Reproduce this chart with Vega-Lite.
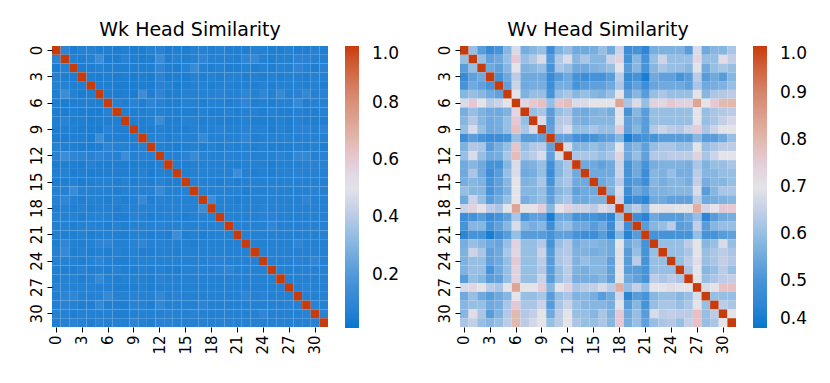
{
"$schema": "https://vega.github.io/schema/vega-lite/v6.json",
"padding": {"left": 29, "top": 21, "right": 5, "bottom": 5},
"background": "white",
"config": {"font": "DejaVu Sans", "view": {"stroke": null},
 "axis": {"domain": false, "grid": false, "tickColor": "#000", "tickSize": 5, "tickWidth": 1, "labelFontSize": 15, "labelColor": "#000", "labelPadding": 3, "title": null},
 "title": {"fontSize": 19, "fontWeight": "normal", "color": "#000", "offset": 5},
 "legend": {"labelFontSize": 17, "labelColor": "#000", "gradientLength": 282, "gradientThickness": 14, "offset": 17, "labelOffset": 13, "gradientStrokeWidth": 0}
},
"resolve": {"scale": {"color": "independent"}},
"spacing": 37,
"datasets": {
"k": [
{"i":0,"j":0,"z":1},{"i":0,"j":1,"z":0.09},{"i":0,"j":2,"z":0.05},{"i":0,"j":3,"z":0.07},{"i":0,"j":4,"z":0.07},{"i":0,"j":5,"z":0.06},{"i":0,"j":6,"z":0.06},{"i":0,"j":7,"z":0.05},{"i":0,"j":8,"z":0.06},{"i":0,"j":9,"z":0.05},{"i":0,"j":10,"z":0.05},{"i":0,"j":11,"z":0.07},{"i":0,"j":12,"z":0.08},{"i":0,"j":13,"z":0.05},{"i":0,"j":14,"z":0.06},{"i":0,"j":15,"z":0.05},{"i":0,"j":16,"z":0.07},{"i":0,"j":17,"z":0.07},{"i":0,"j":18,"z":0.06},{"i":0,"j":19,"z":0.07},{"i":0,"j":20,"z":0.06},{"i":0,"j":21,"z":0.06},{"i":0,"j":22,"z":0.06},{"i":0,"j":23,"z":0.07},{"i":0,"j":24,"z":0.07},{"i":0,"j":25,"z":0.06},{"i":0,"j":26,"z":0.06},{"i":0,"j":27,"z":0.07},{"i":0,"j":28,"z":0.06},{"i":0,"j":29,"z":0.06},{"i":0,"j":30,"z":0.07},{"i":0,"j":31,"z":0.06},
{"i":1,"j":0,"z":0.09},{"i":1,"j":1,"z":1},{"i":1,"j":2,"z":0.07},{"i":1,"j":3,"z":0.06},{"i":1,"j":4,"z":0.07},{"i":1,"j":5,"z":0.14},{"i":1,"j":6,"z":0.05},{"i":1,"j":7,"z":0.05},{"i":1,"j":8,"z":0.08},{"i":1,"j":9,"z":0.06},{"i":1,"j":10,"z":0.05},{"i":1,"j":11,"z":0.06},{"i":1,"j":12,"z":0.14},{"i":1,"j":13,"z":0.06},{"i":1,"j":14,"z":0.07},{"i":1,"j":15,"z":0.06},{"i":1,"j":16,"z":0.07},{"i":1,"j":17,"z":0.10},{"i":1,"j":18,"z":0.07},{"i":1,"j":19,"z":0.07},{"i":1,"j":20,"z":0.07},{"i":1,"j":21,"z":0.06},{"i":1,"j":22,"z":0.10},{"i":1,"j":23,"z":0.12},{"i":1,"j":24,"z":0.07},{"i":1,"j":25,"z":0.06},{"i":1,"j":26,"z":0.07},{"i":1,"j":27,"z":0.07},{"i":1,"j":28,"z":0.09},{"i":1,"j":29,"z":0.08},{"i":1,"j":30,"z":0.07},{"i":1,"j":31,"z":0.07},
{"i":2,"j":0,"z":0.05},{"i":2,"j":1,"z":0.07},{"i":2,"j":2,"z":1},{"i":2,"j":3,"z":0.05},{"i":2,"j":4,"z":0.06},{"i":2,"j":5,"z":0.07},{"i":2,"j":6,"z":0.06},{"i":2,"j":7,"z":0.06},{"i":2,"j":8,"z":0.06},{"i":2,"j":9,"z":0.06},{"i":2,"j":10,"z":0.06},{"i":2,"j":11,"z":0.06},{"i":2,"j":12,"z":0.10},{"i":2,"j":13,"z":0.06},{"i":2,"j":14,"z":0.05},{"i":2,"j":15,"z":0.07},{"i":2,"j":16,"z":0.13},{"i":2,"j":17,"z":0.07},{"i":2,"j":18,"z":0.06},{"i":2,"j":19,"z":0.07},{"i":2,"j":20,"z":0.06},{"i":2,"j":21,"z":0.06},{"i":2,"j":22,"z":0.07},{"i":2,"j":23,"z":0.06},{"i":2,"j":24,"z":0.07},{"i":2,"j":25,"z":0.06},{"i":2,"j":26,"z":0.07},{"i":2,"j":27,"z":0.07},{"i":2,"j":28,"z":0.10},{"i":2,"j":29,"z":0.07},{"i":2,"j":30,"z":0.06},{"i":2,"j":31,"z":0.08},
{"i":3,"j":0,"z":0.07},{"i":3,"j":1,"z":0.06},{"i":3,"j":2,"z":0.05},{"i":3,"j":3,"z":1},{"i":3,"j":4,"z":0.06},{"i":3,"j":5,"z":0.05},{"i":3,"j":6,"z":0.06},{"i":3,"j":7,"z":0.05},{"i":3,"j":8,"z":0.06},{"i":3,"j":9,"z":0.05},{"i":3,"j":10,"z":0.06},{"i":3,"j":11,"z":0.05},{"i":3,"j":12,"z":0.09},{"i":3,"j":13,"z":0.05},{"i":3,"j":14,"z":0.06},{"i":3,"j":15,"z":0.05},{"i":3,"j":16,"z":0.07},{"i":3,"j":17,"z":0.06},{"i":3,"j":18,"z":0.07},{"i":3,"j":19,"z":0.06},{"i":3,"j":20,"z":0.07},{"i":3,"j":21,"z":0.07},{"i":3,"j":22,"z":0.06},{"i":3,"j":23,"z":0.07},{"i":3,"j":24,"z":0.06},{"i":3,"j":25,"z":0.07},{"i":3,"j":26,"z":0.06},{"i":3,"j":27,"z":0.07},{"i":3,"j":28,"z":0.07},{"i":3,"j":29,"z":0.06},{"i":3,"j":30,"z":0.07},{"i":3,"j":31,"z":0.07},
{"i":4,"j":0,"z":0.07},{"i":4,"j":1,"z":0.07},{"i":4,"j":2,"z":0.06},{"i":4,"j":3,"z":0.06},{"i":4,"j":4,"z":1},{"i":4,"j":5,"z":0.06},{"i":4,"j":6,"z":0.06},{"i":4,"j":7,"z":0.05},{"i":4,"j":8,"z":0.05},{"i":4,"j":9,"z":0.05},{"i":4,"j":10,"z":0.05},{"i":4,"j":11,"z":0.05},{"i":4,"j":12,"z":0.08},{"i":4,"j":13,"z":0.07},{"i":4,"j":14,"z":0.05},{"i":4,"j":15,"z":0.06},{"i":4,"j":16,"z":0.07},{"i":4,"j":17,"z":0.07},{"i":4,"j":18,"z":0.06},{"i":4,"j":19,"z":0.07},{"i":4,"j":20,"z":0.07},{"i":4,"j":21,"z":0.06},{"i":4,"j":22,"z":0.07},{"i":4,"j":23,"z":0.06},{"i":4,"j":24,"z":0.07},{"i":4,"j":25,"z":0.06},{"i":4,"j":26,"z":0.07},{"i":4,"j":27,"z":0.07},{"i":4,"j":28,"z":0.07},{"i":4,"j":29,"z":0.06},{"i":4,"j":30,"z":0.07},{"i":4,"j":31,"z":0.06},
{"i":5,"j":0,"z":0.06},{"i":5,"j":1,"z":0.14},{"i":5,"j":2,"z":0.07},{"i":5,"j":3,"z":0.05},{"i":5,"j":4,"z":0.06},{"i":5,"j":5,"z":1},{"i":5,"j":6,"z":0.06},{"i":5,"j":7,"z":0.05},{"i":5,"j":8,"z":0.06},{"i":5,"j":9,"z":0.05},{"i":5,"j":10,"z":0.14},{"i":5,"j":11,"z":0.06},{"i":5,"j":12,"z":0.10},{"i":5,"j":13,"z":0.06},{"i":5,"j":14,"z":0.06},{"i":5,"j":15,"z":0.07},{"i":5,"j":16,"z":0.07},{"i":5,"j":17,"z":0.07},{"i":5,"j":18,"z":0.07},{"i":5,"j":19,"z":0.08},{"i":5,"j":20,"z":0.07},{"i":5,"j":21,"z":0.07},{"i":5,"j":22,"z":0.10},{"i":5,"j":23,"z":0.07},{"i":5,"j":24,"z":0.10},{"i":5,"j":25,"z":0.07},{"i":5,"j":26,"z":0.12},{"i":5,"j":27,"z":0.07},{"i":5,"j":28,"z":0.08},{"i":5,"j":29,"z":0.11},{"i":5,"j":30,"z":0.07},{"i":5,"j":31,"z":0.08},
{"i":6,"j":0,"z":0.06},{"i":6,"j":1,"z":0.05},{"i":6,"j":2,"z":0.06},{"i":6,"j":3,"z":0.06},{"i":6,"j":4,"z":0.06},{"i":6,"j":5,"z":0.06},{"i":6,"j":6,"z":1},{"i":6,"j":7,"z":0.07},{"i":6,"j":8,"z":0.06},{"i":6,"j":9,"z":0.08},{"i":6,"j":10,"z":0.06},{"i":6,"j":11,"z":0.09},{"i":6,"j":12,"z":0.08},{"i":6,"j":13,"z":0.06},{"i":6,"j":14,"z":0.06},{"i":6,"j":15,"z":0.07},{"i":6,"j":16,"z":0.07},{"i":6,"j":17,"z":0.06},{"i":6,"j":18,"z":0.07},{"i":6,"j":19,"z":0.07},{"i":6,"j":20,"z":0.06},{"i":6,"j":21,"z":0.07},{"i":6,"j":22,"z":0.10},{"i":6,"j":23,"z":0.06},{"i":6,"j":24,"z":0.07},{"i":6,"j":25,"z":0.06},{"i":6,"j":26,"z":0.07},{"i":6,"j":27,"z":0.07},{"i":6,"j":28,"z":0.12},{"i":6,"j":29,"z":0.06},{"i":6,"j":30,"z":0.07},{"i":6,"j":31,"z":0.07},
{"i":7,"j":0,"z":0.05},{"i":7,"j":1,"z":0.05},{"i":7,"j":2,"z":0.06},{"i":7,"j":3,"z":0.05},{"i":7,"j":4,"z":0.05},{"i":7,"j":5,"z":0.05},{"i":7,"j":6,"z":0.07},{"i":7,"j":7,"z":1},{"i":7,"j":8,"z":0.06},{"i":7,"j":9,"z":0.06},{"i":7,"j":10,"z":0.06},{"i":7,"j":11,"z":0.07},{"i":7,"j":12,"z":0.07},{"i":7,"j":13,"z":0.06},{"i":7,"j":14,"z":0.06},{"i":7,"j":15,"z":0.06},{"i":7,"j":16,"z":0.06},{"i":7,"j":17,"z":0.07},{"i":7,"j":18,"z":0.06},{"i":7,"j":19,"z":0.06},{"i":7,"j":20,"z":0.07},{"i":7,"j":21,"z":0.06},{"i":7,"j":22,"z":0.07},{"i":7,"j":23,"z":0.07},{"i":7,"j":24,"z":0.06},{"i":7,"j":25,"z":0.07},{"i":7,"j":26,"z":0.06},{"i":7,"j":27,"z":0.06},{"i":7,"j":28,"z":0.07},{"i":7,"j":29,"z":0.06},{"i":7,"j":30,"z":0.06},{"i":7,"j":31,"z":0.07},
{"i":8,"j":0,"z":0.06},{"i":8,"j":1,"z":0.08},{"i":8,"j":2,"z":0.06},{"i":8,"j":3,"z":0.06},{"i":8,"j":4,"z":0.05},{"i":8,"j":5,"z":0.06},{"i":8,"j":6,"z":0.06},{"i":8,"j":7,"z":0.06},{"i":8,"j":8,"z":1},{"i":8,"j":9,"z":0.06},{"i":8,"j":10,"z":0.06},{"i":8,"j":11,"z":0.07},{"i":8,"j":12,"z":0.14},{"i":8,"j":13,"z":0.06},{"i":8,"j":14,"z":0.06},{"i":8,"j":15,"z":0.07},{"i":8,"j":16,"z":0.07},{"i":8,"j":17,"z":0.06},{"i":8,"j":18,"z":0.07},{"i":8,"j":19,"z":0.06},{"i":8,"j":20,"z":0.06},{"i":8,"j":21,"z":0.06},{"i":8,"j":22,"z":0.07},{"i":8,"j":23,"z":0.06},{"i":8,"j":24,"z":0.06},{"i":8,"j":25,"z":0.06},{"i":8,"j":26,"z":0.07},{"i":8,"j":27,"z":0.06},{"i":8,"j":28,"z":0.07},{"i":8,"j":29,"z":0.06},{"i":8,"j":30,"z":0.06},{"i":8,"j":31,"z":0.06},
{"i":9,"j":0,"z":0.05},{"i":9,"j":1,"z":0.06},{"i":9,"j":2,"z":0.06},{"i":9,"j":3,"z":0.05},{"i":9,"j":4,"z":0.05},{"i":9,"j":5,"z":0.05},{"i":9,"j":6,"z":0.08},{"i":9,"j":7,"z":0.06},{"i":9,"j":8,"z":0.06},{"i":9,"j":9,"z":1},{"i":9,"j":10,"z":0.06},{"i":9,"j":11,"z":0.06},{"i":9,"j":12,"z":0.07},{"i":9,"j":13,"z":0.06},{"i":9,"j":14,"z":0.06},{"i":9,"j":15,"z":0.06},{"i":9,"j":16,"z":0.07},{"i":9,"j":17,"z":0.07},{"i":9,"j":18,"z":0.07},{"i":9,"j":19,"z":0.08},{"i":9,"j":20,"z":0.07},{"i":9,"j":21,"z":0.07},{"i":9,"j":22,"z":0.08},{"i":9,"j":23,"z":0.07},{"i":9,"j":24,"z":0.07},{"i":9,"j":25,"z":0.06},{"i":9,"j":26,"z":0.07},{"i":9,"j":27,"z":0.06},{"i":9,"j":28,"z":0.08},{"i":9,"j":29,"z":0.08},{"i":9,"j":30,"z":0.07},{"i":9,"j":31,"z":0.09},
{"i":10,"j":0,"z":0.05},{"i":10,"j":1,"z":0.05},{"i":10,"j":2,"z":0.06},{"i":10,"j":3,"z":0.06},{"i":10,"j":4,"z":0.05},{"i":10,"j":5,"z":0.14},{"i":10,"j":6,"z":0.06},{"i":10,"j":7,"z":0.06},{"i":10,"j":8,"z":0.06},{"i":10,"j":9,"z":0.06},{"i":10,"j":10,"z":1},{"i":10,"j":11,"z":0.07},{"i":10,"j":12,"z":0.08},{"i":10,"j":13,"z":0.06},{"i":10,"j":14,"z":0.07},{"i":10,"j":15,"z":0.07},{"i":10,"j":16,"z":0.07},{"i":10,"j":17,"z":0.12},{"i":10,"j":18,"z":0.07},{"i":10,"j":19,"z":0.07},{"i":10,"j":20,"z":0.07},{"i":10,"j":21,"z":0.07},{"i":10,"j":22,"z":0.10},{"i":10,"j":23,"z":0.06},{"i":10,"j":24,"z":0.07},{"i":10,"j":25,"z":0.07},{"i":10,"j":26,"z":0.07},{"i":10,"j":27,"z":0.07},{"i":10,"j":28,"z":0.07},{"i":10,"j":29,"z":0.07},{"i":10,"j":30,"z":0.07},{"i":10,"j":31,"z":0.07},
{"i":11,"j":0,"z":0.07},{"i":11,"j":1,"z":0.06},{"i":11,"j":2,"z":0.06},{"i":11,"j":3,"z":0.05},{"i":11,"j":4,"z":0.05},{"i":11,"j":5,"z":0.06},{"i":11,"j":6,"z":0.09},{"i":11,"j":7,"z":0.07},{"i":11,"j":8,"z":0.07},{"i":11,"j":9,"z":0.06},{"i":11,"j":10,"z":0.07},{"i":11,"j":11,"z":1},{"i":11,"j":12,"z":0.07},{"i":11,"j":13,"z":0.06},{"i":11,"j":14,"z":0.05},{"i":11,"j":15,"z":0.06},{"i":11,"j":16,"z":0.07},{"i":11,"j":17,"z":0.06},{"i":11,"j":18,"z":0.07},{"i":11,"j":19,"z":0.06},{"i":11,"j":20,"z":0.07},{"i":11,"j":21,"z":0.06},{"i":11,"j":22,"z":0.07},{"i":11,"j":23,"z":0.06},{"i":11,"j":24,"z":0.07},{"i":11,"j":25,"z":0.06},{"i":11,"j":26,"z":0.06},{"i":11,"j":27,"z":0.06},{"i":11,"j":28,"z":0.07},{"i":11,"j":29,"z":0.06},{"i":11,"j":30,"z":0.07},{"i":11,"j":31,"z":0.06},
{"i":12,"j":0,"z":0.08},{"i":12,"j":1,"z":0.14},{"i":12,"j":2,"z":0.10},{"i":12,"j":3,"z":0.09},{"i":12,"j":4,"z":0.08},{"i":12,"j":5,"z":0.10},{"i":12,"j":6,"z":0.08},{"i":12,"j":7,"z":0.07},{"i":12,"j":8,"z":0.14},{"i":12,"j":9,"z":0.07},{"i":12,"j":10,"z":0.08},{"i":12,"j":11,"z":0.07},{"i":12,"j":12,"z":1},{"i":12,"j":13,"z":0.07},{"i":12,"j":14,"z":0.07},{"i":12,"j":15,"z":0.08},{"i":12,"j":16,"z":0.13},{"i":12,"j":17,"z":0.08},{"i":12,"j":18,"z":0.07},{"i":12,"j":19,"z":0.07},{"i":12,"j":20,"z":0.08},{"i":12,"j":21,"z":0.07},{"i":12,"j":22,"z":0.08},{"i":12,"j":23,"z":0.07},{"i":12,"j":24,"z":0.07},{"i":12,"j":25,"z":0.07},{"i":12,"j":26,"z":0.08},{"i":12,"j":27,"z":0.07},{"i":12,"j":28,"z":0.11},{"i":12,"j":29,"z":0.11},{"i":12,"j":30,"z":0.07},{"i":12,"j":31,"z":0.08},
{"i":13,"j":0,"z":0.05},{"i":13,"j":1,"z":0.06},{"i":13,"j":2,"z":0.06},{"i":13,"j":3,"z":0.05},{"i":13,"j":4,"z":0.07},{"i":13,"j":5,"z":0.06},{"i":13,"j":6,"z":0.06},{"i":13,"j":7,"z":0.06},{"i":13,"j":8,"z":0.06},{"i":13,"j":9,"z":0.06},{"i":13,"j":10,"z":0.06},{"i":13,"j":11,"z":0.06},{"i":13,"j":12,"z":0.07},{"i":13,"j":13,"z":1},{"i":13,"j":14,"z":0.06},{"i":13,"j":15,"z":0.06},{"i":13,"j":16,"z":0.07},{"i":13,"j":17,"z":0.07},{"i":13,"j":18,"z":0.07},{"i":13,"j":19,"z":0.07},{"i":13,"j":20,"z":0.07},{"i":13,"j":21,"z":0.06},{"i":13,"j":22,"z":0.07},{"i":13,"j":23,"z":0.07},{"i":13,"j":24,"z":0.07},{"i":13,"j":25,"z":0.06},{"i":13,"j":26,"z":0.07},{"i":13,"j":27,"z":0.07},{"i":13,"j":28,"z":0.07},{"i":13,"j":29,"z":0.07},{"i":13,"j":30,"z":0.08},{"i":13,"j":31,"z":0.08},
{"i":14,"j":0,"z":0.06},{"i":14,"j":1,"z":0.07},{"i":14,"j":2,"z":0.05},{"i":14,"j":3,"z":0.06},{"i":14,"j":4,"z":0.05},{"i":14,"j":5,"z":0.06},{"i":14,"j":6,"z":0.06},{"i":14,"j":7,"z":0.06},{"i":14,"j":8,"z":0.06},{"i":14,"j":9,"z":0.06},{"i":14,"j":10,"z":0.07},{"i":14,"j":11,"z":0.05},{"i":14,"j":12,"z":0.07},{"i":14,"j":13,"z":0.06},{"i":14,"j":14,"z":1},{"i":14,"j":15,"z":0.06},{"i":14,"j":16,"z":0.07},{"i":14,"j":17,"z":0.07},{"i":14,"j":18,"z":0.07},{"i":14,"j":19,"z":0.07},{"i":14,"j":20,"z":0.07},{"i":14,"j":21,"z":0.14},{"i":14,"j":22,"z":0.07},{"i":14,"j":23,"z":0.06},{"i":14,"j":24,"z":0.07},{"i":14,"j":25,"z":0.06},{"i":14,"j":26,"z":0.07},{"i":14,"j":27,"z":0.07},{"i":14,"j":28,"z":0.08},{"i":14,"j":29,"z":0.07},{"i":14,"j":30,"z":0.07},{"i":14,"j":31,"z":0.07},
{"i":15,"j":0,"z":0.05},{"i":15,"j":1,"z":0.06},{"i":15,"j":2,"z":0.07},{"i":15,"j":3,"z":0.05},{"i":15,"j":4,"z":0.06},{"i":15,"j":5,"z":0.07},{"i":15,"j":6,"z":0.07},{"i":15,"j":7,"z":0.06},{"i":15,"j":8,"z":0.07},{"i":15,"j":9,"z":0.06},{"i":15,"j":10,"z":0.07},{"i":15,"j":11,"z":0.06},{"i":15,"j":12,"z":0.08},{"i":15,"j":13,"z":0.06},{"i":15,"j":14,"z":0.06},{"i":15,"j":15,"z":1},{"i":15,"j":16,"z":0.07},{"i":15,"j":17,"z":0.07},{"i":15,"j":18,"z":0.07},{"i":15,"j":19,"z":0.06},{"i":15,"j":20,"z":0.07},{"i":15,"j":21,"z":0.06},{"i":15,"j":22,"z":0.07},{"i":15,"j":23,"z":0.07},{"i":15,"j":24,"z":0.07},{"i":15,"j":25,"z":0.07},{"i":15,"j":26,"z":0.07},{"i":15,"j":27,"z":0.07},{"i":15,"j":28,"z":0.07},{"i":15,"j":29,"z":0.07},{"i":15,"j":30,"z":0.07},{"i":15,"j":31,"z":0.07},
{"i":16,"j":0,"z":0.07},{"i":16,"j":1,"z":0.07},{"i":16,"j":2,"z":0.13},{"i":16,"j":3,"z":0.07},{"i":16,"j":4,"z":0.07},{"i":16,"j":5,"z":0.07},{"i":16,"j":6,"z":0.07},{"i":16,"j":7,"z":0.06},{"i":16,"j":8,"z":0.07},{"i":16,"j":9,"z":0.07},{"i":16,"j":10,"z":0.07},{"i":16,"j":11,"z":0.07},{"i":16,"j":12,"z":0.13},{"i":16,"j":13,"z":0.07},{"i":16,"j":14,"z":0.07},{"i":16,"j":15,"z":0.07},{"i":16,"j":16,"z":1},{"i":16,"j":17,"z":0.07},{"i":16,"j":18,"z":0.07},{"i":16,"j":19,"z":0.07},{"i":16,"j":20,"z":0.07},{"i":16,"j":21,"z":0.07},{"i":16,"j":22,"z":0.06},{"i":16,"j":23,"z":0.07},{"i":16,"j":24,"z":0.07},{"i":16,"j":25,"z":0.07},{"i":16,"j":26,"z":0.07},{"i":16,"j":27,"z":0.07},{"i":16,"j":28,"z":0.07},{"i":16,"j":29,"z":0.07},{"i":16,"j":30,"z":0.08},{"i":16,"j":31,"z":0.07},
{"i":17,"j":0,"z":0.07},{"i":17,"j":1,"z":0.10},{"i":17,"j":2,"z":0.07},{"i":17,"j":3,"z":0.06},{"i":17,"j":4,"z":0.07},{"i":17,"j":5,"z":0.07},{"i":17,"j":6,"z":0.06},{"i":17,"j":7,"z":0.07},{"i":17,"j":8,"z":0.06},{"i":17,"j":9,"z":0.07},{"i":17,"j":10,"z":0.12},{"i":17,"j":11,"z":0.06},{"i":17,"j":12,"z":0.08},{"i":17,"j":13,"z":0.07},{"i":17,"j":14,"z":0.07},{"i":17,"j":15,"z":0.07},{"i":17,"j":16,"z":0.07},{"i":17,"j":17,"z":1},{"i":17,"j":18,"z":0.14},{"i":17,"j":19,"z":0.07},{"i":17,"j":20,"z":0.07},{"i":17,"j":21,"z":0.06},{"i":17,"j":22,"z":0.07},{"i":17,"j":23,"z":0.07},{"i":17,"j":24,"z":0.07},{"i":17,"j":25,"z":0.07},{"i":17,"j":26,"z":0.07},{"i":17,"j":27,"z":0.07},{"i":17,"j":28,"z":0.07},{"i":17,"j":29,"z":0.09},{"i":17,"j":30,"z":0.07},{"i":17,"j":31,"z":0.07},
{"i":18,"j":0,"z":0.06},{"i":18,"j":1,"z":0.07},{"i":18,"j":2,"z":0.06},{"i":18,"j":3,"z":0.07},{"i":18,"j":4,"z":0.06},{"i":18,"j":5,"z":0.07},{"i":18,"j":6,"z":0.07},{"i":18,"j":7,"z":0.06},{"i":18,"j":8,"z":0.07},{"i":18,"j":9,"z":0.07},{"i":18,"j":10,"z":0.07},{"i":18,"j":11,"z":0.07},{"i":18,"j":12,"z":0.07},{"i":18,"j":13,"z":0.07},{"i":18,"j":14,"z":0.07},{"i":18,"j":15,"z":0.07},{"i":18,"j":16,"z":0.07},{"i":18,"j":17,"z":0.14},{"i":18,"j":18,"z":1},{"i":18,"j":19,"z":0.07},{"i":18,"j":20,"z":0.07},{"i":18,"j":21,"z":0.07},{"i":18,"j":22,"z":0.07},{"i":18,"j":23,"z":0.07},{"i":18,"j":24,"z":0.08},{"i":18,"j":25,"z":0.07},{"i":18,"j":26,"z":0.07},{"i":18,"j":27,"z":0.07},{"i":18,"j":28,"z":0.07},{"i":18,"j":29,"z":0.07},{"i":18,"j":30,"z":0.07},{"i":18,"j":31,"z":0.07},
{"i":19,"j":0,"z":0.07},{"i":19,"j":1,"z":0.07},{"i":19,"j":2,"z":0.07},{"i":19,"j":3,"z":0.06},{"i":19,"j":4,"z":0.07},{"i":19,"j":5,"z":0.08},{"i":19,"j":6,"z":0.07},{"i":19,"j":7,"z":0.06},{"i":19,"j":8,"z":0.06},{"i":19,"j":9,"z":0.08},{"i":19,"j":10,"z":0.07},{"i":19,"j":11,"z":0.06},{"i":19,"j":12,"z":0.07},{"i":19,"j":13,"z":0.07},{"i":19,"j":14,"z":0.07},{"i":19,"j":15,"z":0.06},{"i":19,"j":16,"z":0.07},{"i":19,"j":17,"z":0.07},{"i":19,"j":18,"z":0.07},{"i":19,"j":19,"z":1},{"i":19,"j":20,"z":0.07},{"i":19,"j":21,"z":0.07},{"i":19,"j":22,"z":0.07},{"i":19,"j":23,"z":0.07},{"i":19,"j":24,"z":0.08},{"i":19,"j":25,"z":0.08},{"i":19,"j":26,"z":0.07},{"i":19,"j":27,"z":0.07},{"i":19,"j":28,"z":0.07},{"i":19,"j":29,"z":0.07},{"i":19,"j":30,"z":0.07},{"i":19,"j":31,"z":0.07},
{"i":20,"j":0,"z":0.06},{"i":20,"j":1,"z":0.07},{"i":20,"j":2,"z":0.06},{"i":20,"j":3,"z":0.07},{"i":20,"j":4,"z":0.07},{"i":20,"j":5,"z":0.07},{"i":20,"j":6,"z":0.06},{"i":20,"j":7,"z":0.07},{"i":20,"j":8,"z":0.06},{"i":20,"j":9,"z":0.07},{"i":20,"j":10,"z":0.07},{"i":20,"j":11,"z":0.07},{"i":20,"j":12,"z":0.08},{"i":20,"j":13,"z":0.07},{"i":20,"j":14,"z":0.07},{"i":20,"j":15,"z":0.07},{"i":20,"j":16,"z":0.07},{"i":20,"j":17,"z":0.07},{"i":20,"j":18,"z":0.07},{"i":20,"j":19,"z":0.07},{"i":20,"j":20,"z":1},{"i":20,"j":21,"z":0.07},{"i":20,"j":22,"z":0.07},{"i":20,"j":23,"z":0.07},{"i":20,"j":24,"z":0.07},{"i":20,"j":25,"z":0.10},{"i":20,"j":26,"z":0.07},{"i":20,"j":27,"z":0.07},{"i":20,"j":28,"z":0.07},{"i":20,"j":29,"z":0.07},{"i":20,"j":30,"z":0.07},{"i":20,"j":31,"z":0.07},
{"i":21,"j":0,"z":0.06},{"i":21,"j":1,"z":0.06},{"i":21,"j":2,"z":0.06},{"i":21,"j":3,"z":0.07},{"i":21,"j":4,"z":0.06},{"i":21,"j":5,"z":0.07},{"i":21,"j":6,"z":0.07},{"i":21,"j":7,"z":0.06},{"i":21,"j":8,"z":0.06},{"i":21,"j":9,"z":0.07},{"i":21,"j":10,"z":0.07},{"i":21,"j":11,"z":0.06},{"i":21,"j":12,"z":0.07},{"i":21,"j":13,"z":0.06},{"i":21,"j":14,"z":0.14},{"i":21,"j":15,"z":0.06},{"i":21,"j":16,"z":0.07},{"i":21,"j":17,"z":0.06},{"i":21,"j":18,"z":0.07},{"i":21,"j":19,"z":0.07},{"i":21,"j":20,"z":0.07},{"i":21,"j":21,"z":1},{"i":21,"j":22,"z":0.07},{"i":21,"j":23,"z":0.07},{"i":21,"j":24,"z":0.07},{"i":21,"j":25,"z":0.07},{"i":21,"j":26,"z":0.07},{"i":21,"j":27,"z":0.07},{"i":21,"j":28,"z":0.07},{"i":21,"j":29,"z":0.07},{"i":21,"j":30,"z":0.07},{"i":21,"j":31,"z":0.07},
{"i":22,"j":0,"z":0.06},{"i":22,"j":1,"z":0.10},{"i":22,"j":2,"z":0.07},{"i":22,"j":3,"z":0.06},{"i":22,"j":4,"z":0.07},{"i":22,"j":5,"z":0.10},{"i":22,"j":6,"z":0.10},{"i":22,"j":7,"z":0.07},{"i":22,"j":8,"z":0.07},{"i":22,"j":9,"z":0.08},{"i":22,"j":10,"z":0.10},{"i":22,"j":11,"z":0.07},{"i":22,"j":12,"z":0.08},{"i":22,"j":13,"z":0.07},{"i":22,"j":14,"z":0.07},{"i":22,"j":15,"z":0.07},{"i":22,"j":16,"z":0.06},{"i":22,"j":17,"z":0.07},{"i":22,"j":18,"z":0.07},{"i":22,"j":19,"z":0.07},{"i":22,"j":20,"z":0.07},{"i":22,"j":21,"z":0.07},{"i":22,"j":22,"z":1},{"i":22,"j":23,"z":0.07},{"i":22,"j":24,"z":0.07},{"i":22,"j":25,"z":0.07},{"i":22,"j":26,"z":0.07},{"i":22,"j":27,"z":0.07},{"i":22,"j":28,"z":0.10},{"i":22,"j":29,"z":0.07},{"i":22,"j":30,"z":0.07},{"i":22,"j":31,"z":0.07},
{"i":23,"j":0,"z":0.07},{"i":23,"j":1,"z":0.12},{"i":23,"j":2,"z":0.06},{"i":23,"j":3,"z":0.07},{"i":23,"j":4,"z":0.06},{"i":23,"j":5,"z":0.07},{"i":23,"j":6,"z":0.06},{"i":23,"j":7,"z":0.07},{"i":23,"j":8,"z":0.06},{"i":23,"j":9,"z":0.07},{"i":23,"j":10,"z":0.06},{"i":23,"j":11,"z":0.06},{"i":23,"j":12,"z":0.07},{"i":23,"j":13,"z":0.07},{"i":23,"j":14,"z":0.06},{"i":23,"j":15,"z":0.07},{"i":23,"j":16,"z":0.07},{"i":23,"j":17,"z":0.07},{"i":23,"j":18,"z":0.07},{"i":23,"j":19,"z":0.07},{"i":23,"j":20,"z":0.07},{"i":23,"j":21,"z":0.07},{"i":23,"j":22,"z":0.07},{"i":23,"j":23,"z":1},{"i":23,"j":24,"z":0.07},{"i":23,"j":25,"z":0.07},{"i":23,"j":26,"z":0.07},{"i":23,"j":27,"z":0.07},{"i":23,"j":28,"z":0.07},{"i":23,"j":29,"z":0.07},{"i":23,"j":30,"z":0.07},{"i":23,"j":31,"z":0.07},
{"i":24,"j":0,"z":0.07},{"i":24,"j":1,"z":0.07},{"i":24,"j":2,"z":0.07},{"i":24,"j":3,"z":0.06},{"i":24,"j":4,"z":0.07},{"i":24,"j":5,"z":0.10},{"i":24,"j":6,"z":0.07},{"i":24,"j":7,"z":0.06},{"i":24,"j":8,"z":0.06},{"i":24,"j":9,"z":0.07},{"i":24,"j":10,"z":0.07},{"i":24,"j":11,"z":0.07},{"i":24,"j":12,"z":0.07},{"i":24,"j":13,"z":0.07},{"i":24,"j":14,"z":0.07},{"i":24,"j":15,"z":0.07},{"i":24,"j":16,"z":0.07},{"i":24,"j":17,"z":0.07},{"i":24,"j":18,"z":0.08},{"i":24,"j":19,"z":0.08},{"i":24,"j":20,"z":0.07},{"i":24,"j":21,"z":0.07},{"i":24,"j":22,"z":0.07},{"i":24,"j":23,"z":0.07},{"i":24,"j":24,"z":1},{"i":24,"j":25,"z":0.07},{"i":24,"j":26,"z":0.07},{"i":24,"j":27,"z":0.07},{"i":24,"j":28,"z":0.08},{"i":24,"j":29,"z":0.07},{"i":24,"j":30,"z":0.10},{"i":24,"j":31,"z":0.07},
{"i":25,"j":0,"z":0.06},{"i":25,"j":1,"z":0.06},{"i":25,"j":2,"z":0.06},{"i":25,"j":3,"z":0.07},{"i":25,"j":4,"z":0.06},{"i":25,"j":5,"z":0.07},{"i":25,"j":6,"z":0.06},{"i":25,"j":7,"z":0.07},{"i":25,"j":8,"z":0.06},{"i":25,"j":9,"z":0.06},{"i":25,"j":10,"z":0.07},{"i":25,"j":11,"z":0.06},{"i":25,"j":12,"z":0.07},{"i":25,"j":13,"z":0.06},{"i":25,"j":14,"z":0.06},{"i":25,"j":15,"z":0.07},{"i":25,"j":16,"z":0.07},{"i":25,"j":17,"z":0.07},{"i":25,"j":18,"z":0.07},{"i":25,"j":19,"z":0.08},{"i":25,"j":20,"z":0.10},{"i":25,"j":21,"z":0.07},{"i":25,"j":22,"z":0.07},{"i":25,"j":23,"z":0.07},{"i":25,"j":24,"z":0.07},{"i":25,"j":25,"z":1},{"i":25,"j":26,"z":0.07},{"i":25,"j":27,"z":0.07},{"i":25,"j":28,"z":0.07},{"i":25,"j":29,"z":0.07},{"i":25,"j":30,"z":0.07},{"i":25,"j":31,"z":0.07},
{"i":26,"j":0,"z":0.06},{"i":26,"j":1,"z":0.07},{"i":26,"j":2,"z":0.07},{"i":26,"j":3,"z":0.06},{"i":26,"j":4,"z":0.07},{"i":26,"j":5,"z":0.12},{"i":26,"j":6,"z":0.07},{"i":26,"j":7,"z":0.06},{"i":26,"j":8,"z":0.07},{"i":26,"j":9,"z":0.07},{"i":26,"j":10,"z":0.07},{"i":26,"j":11,"z":0.06},{"i":26,"j":12,"z":0.08},{"i":26,"j":13,"z":0.07},{"i":26,"j":14,"z":0.07},{"i":26,"j":15,"z":0.07},{"i":26,"j":16,"z":0.07},{"i":26,"j":17,"z":0.07},{"i":26,"j":18,"z":0.07},{"i":26,"j":19,"z":0.07},{"i":26,"j":20,"z":0.07},{"i":26,"j":21,"z":0.07},{"i":26,"j":22,"z":0.07},{"i":26,"j":23,"z":0.07},{"i":26,"j":24,"z":0.07},{"i":26,"j":25,"z":0.07},{"i":26,"j":26,"z":1},{"i":26,"j":27,"z":0.07},{"i":26,"j":28,"z":0.07},{"i":26,"j":29,"z":0.07},{"i":26,"j":30,"z":0.07},{"i":26,"j":31,"z":0.07},
{"i":27,"j":0,"z":0.07},{"i":27,"j":1,"z":0.07},{"i":27,"j":2,"z":0.07},{"i":27,"j":3,"z":0.07},{"i":27,"j":4,"z":0.07},{"i":27,"j":5,"z":0.07},{"i":27,"j":6,"z":0.07},{"i":27,"j":7,"z":0.06},{"i":27,"j":8,"z":0.06},{"i":27,"j":9,"z":0.06},{"i":27,"j":10,"z":0.07},{"i":27,"j":11,"z":0.06},{"i":27,"j":12,"z":0.07},{"i":27,"j":13,"z":0.07},{"i":27,"j":14,"z":0.07},{"i":27,"j":15,"z":0.07},{"i":27,"j":16,"z":0.07},{"i":27,"j":17,"z":0.07},{"i":27,"j":18,"z":0.07},{"i":27,"j":19,"z":0.07},{"i":27,"j":20,"z":0.07},{"i":27,"j":21,"z":0.07},{"i":27,"j":22,"z":0.07},{"i":27,"j":23,"z":0.07},{"i":27,"j":24,"z":0.07},{"i":27,"j":25,"z":0.07},{"i":27,"j":26,"z":0.07},{"i":27,"j":27,"z":1},{"i":27,"j":28,"z":0.07},{"i":27,"j":29,"z":0.08},{"i":27,"j":30,"z":0.07},{"i":27,"j":31,"z":0.07},
{"i":28,"j":0,"z":0.06},{"i":28,"j":1,"z":0.09},{"i":28,"j":2,"z":0.10},{"i":28,"j":3,"z":0.07},{"i":28,"j":4,"z":0.07},{"i":28,"j":5,"z":0.08},{"i":28,"j":6,"z":0.12},{"i":28,"j":7,"z":0.07},{"i":28,"j":8,"z":0.07},{"i":28,"j":9,"z":0.08},{"i":28,"j":10,"z":0.07},{"i":28,"j":11,"z":0.07},{"i":28,"j":12,"z":0.11},{"i":28,"j":13,"z":0.07},{"i":28,"j":14,"z":0.08},{"i":28,"j":15,"z":0.07},{"i":28,"j":16,"z":0.07},{"i":28,"j":17,"z":0.07},{"i":28,"j":18,"z":0.07},{"i":28,"j":19,"z":0.07},{"i":28,"j":20,"z":0.07},{"i":28,"j":21,"z":0.07},{"i":28,"j":22,"z":0.10},{"i":28,"j":23,"z":0.07},{"i":28,"j":24,"z":0.08},{"i":28,"j":25,"z":0.07},{"i":28,"j":26,"z":0.07},{"i":28,"j":27,"z":0.07},{"i":28,"j":28,"z":1},{"i":28,"j":29,"z":0.07},{"i":28,"j":30,"z":0.07},{"i":28,"j":31,"z":0.07},
{"i":29,"j":0,"z":0.06},{"i":29,"j":1,"z":0.08},{"i":29,"j":2,"z":0.07},{"i":29,"j":3,"z":0.06},{"i":29,"j":4,"z":0.06},{"i":29,"j":5,"z":0.11},{"i":29,"j":6,"z":0.06},{"i":29,"j":7,"z":0.06},{"i":29,"j":8,"z":0.06},{"i":29,"j":9,"z":0.08},{"i":29,"j":10,"z":0.07},{"i":29,"j":11,"z":0.06},{"i":29,"j":12,"z":0.11},{"i":29,"j":13,"z":0.07},{"i":29,"j":14,"z":0.07},{"i":29,"j":15,"z":0.07},{"i":29,"j":16,"z":0.07},{"i":29,"j":17,"z":0.09},{"i":29,"j":18,"z":0.07},{"i":29,"j":19,"z":0.07},{"i":29,"j":20,"z":0.07},{"i":29,"j":21,"z":0.07},{"i":29,"j":22,"z":0.07},{"i":29,"j":23,"z":0.07},{"i":29,"j":24,"z":0.07},{"i":29,"j":25,"z":0.07},{"i":29,"j":26,"z":0.07},{"i":29,"j":27,"z":0.08},{"i":29,"j":28,"z":0.07},{"i":29,"j":29,"z":1},{"i":29,"j":30,"z":0.08},{"i":29,"j":31,"z":0.07},
{"i":30,"j":0,"z":0.07},{"i":30,"j":1,"z":0.07},{"i":30,"j":2,"z":0.06},{"i":30,"j":3,"z":0.07},{"i":30,"j":4,"z":0.07},{"i":30,"j":5,"z":0.07},{"i":30,"j":6,"z":0.07},{"i":30,"j":7,"z":0.06},{"i":30,"j":8,"z":0.06},{"i":30,"j":9,"z":0.07},{"i":30,"j":10,"z":0.07},{"i":30,"j":11,"z":0.07},{"i":30,"j":12,"z":0.07},{"i":30,"j":13,"z":0.08},{"i":30,"j":14,"z":0.07},{"i":30,"j":15,"z":0.07},{"i":30,"j":16,"z":0.08},{"i":30,"j":17,"z":0.07},{"i":30,"j":18,"z":0.07},{"i":30,"j":19,"z":0.07},{"i":30,"j":20,"z":0.07},{"i":30,"j":21,"z":0.07},{"i":30,"j":22,"z":0.07},{"i":30,"j":23,"z":0.07},{"i":30,"j":24,"z":0.10},{"i":30,"j":25,"z":0.07},{"i":30,"j":26,"z":0.07},{"i":30,"j":27,"z":0.07},{"i":30,"j":28,"z":0.07},{"i":30,"j":29,"z":0.08},{"i":30,"j":30,"z":1},{"i":30,"j":31,"z":0.08},
{"i":31,"j":0,"z":0.06},{"i":31,"j":1,"z":0.07},{"i":31,"j":2,"z":0.08},{"i":31,"j":3,"z":0.07},{"i":31,"j":4,"z":0.06},{"i":31,"j":5,"z":0.08},{"i":31,"j":6,"z":0.07},{"i":31,"j":7,"z":0.07},{"i":31,"j":8,"z":0.06},{"i":31,"j":9,"z":0.09},{"i":31,"j":10,"z":0.07},{"i":31,"j":11,"z":0.06},{"i":31,"j":12,"z":0.08},{"i":31,"j":13,"z":0.08},{"i":31,"j":14,"z":0.07},{"i":31,"j":15,"z":0.07},{"i":31,"j":16,"z":0.07},{"i":31,"j":17,"z":0.07},{"i":31,"j":18,"z":0.07},{"i":31,"j":19,"z":0.07},{"i":31,"j":20,"z":0.07},{"i":31,"j":21,"z":0.07},{"i":31,"j":22,"z":0.07},{"i":31,"j":23,"z":0.07},{"i":31,"j":24,"z":0.07},{"i":31,"j":25,"z":0.07},{"i":31,"j":26,"z":0.07},{"i":31,"j":27,"z":0.07},{"i":31,"j":28,"z":0.07},{"i":31,"j":29,"z":0.07},{"i":31,"j":30,"z":0.08},{"i":31,"j":31,"z":1}
],
"v": [
{"i":0,"j":0,"z":1},{"i":0,"j":1,"z":0.60},{"i":0,"j":2,"z":0.52},{"i":0,"j":3,"z":0.47},{"i":0,"j":4,"z":0.50},{"i":0,"j":5,"z":0.58},{"i":0,"j":6,"z":0.68},{"i":0,"j":7,"z":0.56},{"i":0,"j":8,"z":0.58},{"i":0,"j":9,"z":0.60},{"i":0,"j":10,"z":0.48},{"i":0,"j":11,"z":0.57},{"i":0,"j":12,"z":0.60},{"i":0,"j":13,"z":0.55},{"i":0,"j":14,"z":0.55},{"i":0,"j":15,"z":0.56},{"i":0,"j":16,"z":0.60},{"i":0,"j":17,"z":0.55},{"i":0,"j":18,"z":0.66},{"i":0,"j":19,"z":0.48},{"i":0,"j":20,"z":0.50},{"i":0,"j":21,"z":0.45},{"i":0,"j":22,"z":0.56},{"i":0,"j":23,"z":0.57},{"i":0,"j":24,"z":0.57},{"i":0,"j":25,"z":0.57},{"i":0,"j":26,"z":0.52},{"i":0,"j":27,"z":0.68},{"i":0,"j":28,"z":0.55},{"i":0,"j":29,"z":0.58},{"i":0,"j":30,"z":0.58},{"i":0,"j":31,"z":0.62},
{"i":1,"j":0,"z":0.60},{"i":1,"j":1,"z":1},{"i":1,"j":2,"z":0.60},{"i":1,"j":3,"z":0.53},{"i":1,"j":4,"z":0.55},{"i":1,"j":5,"z":0.60},{"i":1,"j":6,"z":0.76},{"i":1,"j":7,"z":0.60},{"i":1,"j":8,"z":0.63},{"i":1,"j":9,"z":0.68},{"i":1,"j":10,"z":0.52},{"i":1,"j":11,"z":0.63},{"i":1,"j":12,"z":0.68},{"i":1,"j":13,"z":0.58},{"i":1,"j":14,"z":0.62},{"i":1,"j":15,"z":0.58},{"i":1,"j":16,"z":0.58},{"i":1,"j":17,"z":0.66},{"i":1,"j":18,"z":0.74},{"i":1,"j":19,"z":0.50},{"i":1,"j":20,"z":0.58},{"i":1,"j":21,"z":0.50},{"i":1,"j":22,"z":0.60},{"i":1,"j":23,"z":0.66},{"i":1,"j":24,"z":0.60},{"i":1,"j":25,"z":0.60},{"i":1,"j":26,"z":0.60},{"i":1,"j":27,"z":0.73},{"i":1,"j":28,"z":0.60},{"i":1,"j":29,"z":0.60},{"i":1,"j":30,"z":0.72},{"i":1,"j":31,"z":0.65},
{"i":2,"j":0,"z":0.52},{"i":2,"j":1,"z":0.60},{"i":2,"j":2,"z":1},{"i":2,"j":3,"z":0.55},{"i":2,"j":4,"z":0.53},{"i":2,"j":5,"z":0.58},{"i":2,"j":6,"z":0.70},{"i":2,"j":7,"z":0.57},{"i":2,"j":8,"z":0.58},{"i":2,"j":9,"z":0.60},{"i":2,"j":10,"z":0.50},{"i":2,"j":11,"z":0.62},{"i":2,"j":12,"z":0.60},{"i":2,"j":13,"z":0.55},{"i":2,"j":14,"z":0.55},{"i":2,"j":15,"z":0.57},{"i":2,"j":16,"z":0.58},{"i":2,"j":17,"z":0.60},{"i":2,"j":18,"z":0.70},{"i":2,"j":19,"z":0.52},{"i":2,"j":20,"z":0.58},{"i":2,"j":21,"z":0.50},{"i":2,"j":22,"z":0.58},{"i":2,"j":23,"z":0.62},{"i":2,"j":24,"z":0.60},{"i":2,"j":25,"z":0.60},{"i":2,"j":26,"z":0.58},{"i":2,"j":27,"z":0.70},{"i":2,"j":28,"z":0.55},{"i":2,"j":29,"z":0.60},{"i":2,"j":30,"z":0.62},{"i":2,"j":31,"z":0.60},
{"i":3,"j":0,"z":0.47},{"i":3,"j":1,"z":0.53},{"i":3,"j":2,"z":0.55},{"i":3,"j":3,"z":1},{"i":3,"j":4,"z":0.50},{"i":3,"j":5,"z":0.55},{"i":3,"j":6,"z":0.64},{"i":3,"j":7,"z":0.55},{"i":3,"j":8,"z":0.55},{"i":3,"j":9,"z":0.55},{"i":3,"j":10,"z":0.47},{"i":3,"j":11,"z":0.52},{"i":3,"j":12,"z":0.55},{"i":3,"j":13,"z":0.50},{"i":3,"j":14,"z":0.48},{"i":3,"j":15,"z":0.50},{"i":3,"j":16,"z":0.50},{"i":3,"j":17,"z":0.52},{"i":3,"j":18,"z":0.64},{"i":3,"j":19,"z":0.47},{"i":3,"j":20,"z":0.50},{"i":3,"j":21,"z":0.42},{"i":3,"j":22,"z":0.55},{"i":3,"j":23,"z":0.53},{"i":3,"j":24,"z":0.53},{"i":3,"j":25,"z":0.50},{"i":3,"j":26,"z":0.52},{"i":3,"j":27,"z":0.64},{"i":3,"j":28,"z":0.52},{"i":3,"j":29,"z":0.55},{"i":3,"j":30,"z":0.52},{"i":3,"j":31,"z":0.58},
{"i":4,"j":0,"z":0.50},{"i":4,"j":1,"z":0.55},{"i":4,"j":2,"z":0.53},{"i":4,"j":3,"z":0.50},{"i":4,"j":4,"z":1},{"i":4,"j":5,"z":0.53},{"i":4,"j":6,"z":0.66},{"i":4,"j":7,"z":0.55},{"i":4,"j":8,"z":0.56},{"i":4,"j":9,"z":0.56},{"i":4,"j":10,"z":0.48},{"i":4,"j":11,"z":0.56},{"i":4,"j":12,"z":0.56},{"i":4,"j":13,"z":0.50},{"i":4,"j":14,"z":0.52},{"i":4,"j":15,"z":0.53},{"i":4,"j":16,"z":0.53},{"i":4,"j":17,"z":0.55},{"i":4,"j":18,"z":0.62},{"i":4,"j":19,"z":0.50},{"i":4,"j":20,"z":0.53},{"i":4,"j":21,"z":0.48},{"i":4,"j":22,"z":0.54},{"i":4,"j":23,"z":0.55},{"i":4,"j":24,"z":0.55},{"i":4,"j":25,"z":0.55},{"i":4,"j":26,"z":0.53},{"i":4,"j":27,"z":0.62},{"i":4,"j":28,"z":0.55},{"i":4,"j":29,"z":0.56},{"i":4,"j":30,"z":0.57},{"i":4,"j":31,"z":0.60},
{"i":5,"j":0,"z":0.58},{"i":5,"j":1,"z":0.60},{"i":5,"j":2,"z":0.58},{"i":5,"j":3,"z":0.55},{"i":5,"j":4,"z":0.53},{"i":5,"j":5,"z":1},{"i":5,"j":6,"z":0.70},{"i":5,"j":7,"z":0.57},{"i":5,"j":8,"z":0.60},{"i":5,"j":9,"z":0.60},{"i":5,"j":10,"z":0.50},{"i":5,"j":11,"z":0.60},{"i":5,"j":12,"z":0.62},{"i":5,"j":13,"z":0.58},{"i":5,"j":14,"z":0.60},{"i":5,"j":15,"z":0.58},{"i":5,"j":16,"z":0.57},{"i":5,"j":17,"z":0.60},{"i":5,"j":18,"z":0.70},{"i":5,"j":19,"z":0.53},{"i":5,"j":20,"z":0.58},{"i":5,"j":21,"z":0.52},{"i":5,"j":22,"z":0.60},{"i":5,"j":23,"z":0.62},{"i":5,"j":24,"z":0.60},{"i":5,"j":25,"z":0.60},{"i":5,"j":26,"z":0.60},{"i":5,"j":27,"z":0.70},{"i":5,"j":28,"z":0.58},{"i":5,"j":29,"z":0.62},{"i":5,"j":30,"z":0.63},{"i":5,"j":31,"z":0.64},
{"i":6,"j":0,"z":0.68},{"i":6,"j":1,"z":0.76},{"i":6,"j":2,"z":0.70},{"i":6,"j":3,"z":0.64},{"i":6,"j":4,"z":0.66},{"i":6,"j":5,"z":0.70},{"i":6,"j":6,"z":1},{"i":6,"j":7,"z":0.73},{"i":6,"j":8,"z":0.76},{"i":6,"j":9,"z":0.78},{"i":6,"j":10,"z":0.60},{"i":6,"j":11,"z":0.77},{"i":6,"j":12,"z":0.79},{"i":6,"j":13,"z":0.68},{"i":6,"j":14,"z":0.68},{"i":6,"j":15,"z":0.70},{"i":6,"j":16,"z":0.70},{"i":6,"j":17,"z":0.70},{"i":6,"j":18,"z":0.84},{"i":6,"j":19,"z":0.62},{"i":6,"j":20,"z":0.68},{"i":6,"j":21,"z":0.60},{"i":6,"j":22,"z":0.74},{"i":6,"j":23,"z":0.73},{"i":6,"j":24,"z":0.76},{"i":6,"j":25,"z":0.74},{"i":6,"j":26,"z":0.74},{"i":6,"j":27,"z":0.84},{"i":6,"j":28,"z":0.70},{"i":6,"j":29,"z":0.76},{"i":6,"j":30,"z":0.80},{"i":6,"j":31,"z":0.80},
{"i":7,"j":0,"z":0.56},{"i":7,"j":1,"z":0.60},{"i":7,"j":2,"z":0.57},{"i":7,"j":3,"z":0.55},{"i":7,"j":4,"z":0.55},{"i":7,"j":5,"z":0.57},{"i":7,"j":6,"z":0.73},{"i":7,"j":7,"z":1},{"i":7,"j":8,"z":0.60},{"i":7,"j":9,"z":0.62},{"i":7,"j":10,"z":0.52},{"i":7,"j":11,"z":0.60},{"i":7,"j":12,"z":0.62},{"i":7,"j":13,"z":0.56},{"i":7,"j":14,"z":0.55},{"i":7,"j":15,"z":0.57},{"i":7,"j":16,"z":0.58},{"i":7,"j":17,"z":0.56},{"i":7,"j":18,"z":0.70},{"i":7,"j":19,"z":0.50},{"i":7,"j":20,"z":0.58},{"i":7,"j":21,"z":0.52},{"i":7,"j":22,"z":0.60},{"i":7,"j":23,"z":0.60},{"i":7,"j":24,"z":0.60},{"i":7,"j":25,"z":0.60},{"i":7,"j":26,"z":0.60},{"i":7,"j":27,"z":0.70},{"i":7,"j":28,"z":0.60},{"i":7,"j":29,"z":0.62},{"i":7,"j":30,"z":0.63},{"i":7,"j":31,"z":0.64},
{"i":8,"j":0,"z":0.58},{"i":8,"j":1,"z":0.63},{"i":8,"j":2,"z":0.58},{"i":8,"j":3,"z":0.55},{"i":8,"j":4,"z":0.56},{"i":8,"j":5,"z":0.60},{"i":8,"j":6,"z":0.76},{"i":8,"j":7,"z":0.60},{"i":8,"j":8,"z":1},{"i":8,"j":9,"z":0.68},{"i":8,"j":10,"z":0.52},{"i":8,"j":11,"z":0.63},{"i":8,"j":12,"z":0.64},{"i":8,"j":13,"z":0.57},{"i":8,"j":14,"z":0.56},{"i":8,"j":15,"z":0.58},{"i":8,"j":16,"z":0.58},{"i":8,"j":17,"z":0.58},{"i":8,"j":18,"z":0.70},{"i":8,"j":19,"z":0.53},{"i":8,"j":20,"z":0.56},{"i":8,"j":21,"z":0.52},{"i":8,"j":22,"z":0.60},{"i":8,"j":23,"z":0.60},{"i":8,"j":24,"z":0.60},{"i":8,"j":25,"z":0.60},{"i":8,"j":26,"z":0.60},{"i":8,"j":27,"z":0.70},{"i":8,"j":28,"z":0.60},{"i":8,"j":29,"z":0.62},{"i":8,"j":30,"z":0.65},{"i":8,"j":31,"z":0.67},
{"i":9,"j":0,"z":0.60},{"i":9,"j":1,"z":0.68},{"i":9,"j":2,"z":0.60},{"i":9,"j":3,"z":0.55},{"i":9,"j":4,"z":0.56},{"i":9,"j":5,"z":0.60},{"i":9,"j":6,"z":0.78},{"i":9,"j":7,"z":0.62},{"i":9,"j":8,"z":0.68},{"i":9,"j":9,"z":1},{"i":9,"j":10,"z":0.53},{"i":9,"j":11,"z":0.64},{"i":9,"j":12,"z":0.68},{"i":9,"j":13,"z":0.60},{"i":9,"j":14,"z":0.60},{"i":9,"j":15,"z":0.62},{"i":9,"j":16,"z":0.60},{"i":9,"j":17,"z":0.60},{"i":9,"j":18,"z":0.75},{"i":9,"j":19,"z":0.53},{"i":9,"j":20,"z":0.58},{"i":9,"j":21,"z":0.52},{"i":9,"j":22,"z":0.63},{"i":9,"j":23,"z":0.66},{"i":9,"j":24,"z":0.64},{"i":9,"j":25,"z":0.63},{"i":9,"j":26,"z":0.66},{"i":9,"j":27,"z":0.75},{"i":9,"j":28,"z":0.62},{"i":9,"j":29,"z":0.66},{"i":9,"j":30,"z":0.70},{"i":9,"j":31,"z":0.70},
{"i":10,"j":0,"z":0.48},{"i":10,"j":1,"z":0.52},{"i":10,"j":2,"z":0.50},{"i":10,"j":3,"z":0.47},{"i":10,"j":4,"z":0.48},{"i":10,"j":5,"z":0.50},{"i":10,"j":6,"z":0.60},{"i":10,"j":7,"z":0.52},{"i":10,"j":8,"z":0.52},{"i":10,"j":9,"z":0.53},{"i":10,"j":10,"z":1},{"i":10,"j":11,"z":0.53},{"i":10,"j":12,"z":0.53},{"i":10,"j":13,"z":0.49},{"i":10,"j":14,"z":0.48},{"i":10,"j":15,"z":0.50},{"i":10,"j":16,"z":0.52},{"i":10,"j":17,"z":0.53},{"i":10,"j":18,"z":0.58},{"i":10,"j":19,"z":0.42},{"i":10,"j":20,"z":0.48},{"i":10,"j":21,"z":0.50},{"i":10,"j":22,"z":0.50},{"i":10,"j":23,"z":0.52},{"i":10,"j":24,"z":0.52},{"i":10,"j":25,"z":0.52},{"i":10,"j":26,"z":0.52},{"i":10,"j":27,"z":0.58},{"i":10,"j":28,"z":0.52},{"i":10,"j":29,"z":0.52},{"i":10,"j":30,"z":0.55},{"i":10,"j":31,"z":0.60},
{"i":11,"j":0,"z":0.57},{"i":11,"j":1,"z":0.63},{"i":11,"j":2,"z":0.62},{"i":11,"j":3,"z":0.52},{"i":11,"j":4,"z":0.56},{"i":11,"j":5,"z":0.60},{"i":11,"j":6,"z":0.77},{"i":11,"j":7,"z":0.60},{"i":11,"j":8,"z":0.63},{"i":11,"j":9,"z":0.64},{"i":11,"j":10,"z":0.53},{"i":11,"j":11,"z":1},{"i":11,"j":12,"z":0.68},{"i":11,"j":13,"z":0.58},{"i":11,"j":14,"z":0.58},{"i":11,"j":15,"z":0.60},{"i":11,"j":16,"z":0.58},{"i":11,"j":17,"z":0.60},{"i":11,"j":18,"z":0.70},{"i":11,"j":19,"z":0.55},{"i":11,"j":20,"z":0.58},{"i":11,"j":21,"z":0.53},{"i":11,"j":22,"z":0.60},{"i":11,"j":23,"z":0.62},{"i":11,"j":24,"z":0.62},{"i":11,"j":25,"z":0.60},{"i":11,"j":26,"z":0.60},{"i":11,"j":27,"z":0.70},{"i":11,"j":28,"z":0.60},{"i":11,"j":29,"z":0.62},{"i":11,"j":30,"z":0.64},{"i":11,"j":31,"z":0.64},
{"i":12,"j":0,"z":0.60},{"i":12,"j":1,"z":0.68},{"i":12,"j":2,"z":0.60},{"i":12,"j":3,"z":0.55},{"i":12,"j":4,"z":0.56},{"i":12,"j":5,"z":0.62},{"i":12,"j":6,"z":0.79},{"i":12,"j":7,"z":0.62},{"i":12,"j":8,"z":0.64},{"i":12,"j":9,"z":0.68},{"i":12,"j":10,"z":0.53},{"i":12,"j":11,"z":0.68},{"i":12,"j":12,"z":1},{"i":12,"j":13,"z":0.62},{"i":12,"j":14,"z":0.62},{"i":12,"j":15,"z":0.62},{"i":12,"j":16,"z":0.60},{"i":12,"j":17,"z":0.62},{"i":12,"j":18,"z":0.74},{"i":12,"j":19,"z":0.55},{"i":12,"j":20,"z":0.60},{"i":12,"j":21,"z":0.53},{"i":12,"j":22,"z":0.63},{"i":12,"j":23,"z":0.63},{"i":12,"j":24,"z":0.64},{"i":12,"j":25,"z":0.64},{"i":12,"j":26,"z":0.64},{"i":12,"j":27,"z":0.74},{"i":12,"j":28,"z":0.62},{"i":12,"j":29,"z":0.66},{"i":12,"j":30,"z":0.70},{"i":12,"j":31,"z":0.70},
{"i":13,"j":0,"z":0.55},{"i":13,"j":1,"z":0.58},{"i":13,"j":2,"z":0.55},{"i":13,"j":3,"z":0.50},{"i":13,"j":4,"z":0.50},{"i":13,"j":5,"z":0.58},{"i":13,"j":6,"z":0.68},{"i":13,"j":7,"z":0.56},{"i":13,"j":8,"z":0.57},{"i":13,"j":9,"z":0.60},{"i":13,"j":10,"z":0.49},{"i":13,"j":11,"z":0.58},{"i":13,"j":12,"z":0.62},{"i":13,"j":13,"z":1},{"i":13,"j":14,"z":0.55},{"i":13,"j":15,"z":0.55},{"i":13,"j":16,"z":0.53},{"i":13,"j":17,"z":0.55},{"i":13,"j":18,"z":0.66},{"i":13,"j":19,"z":0.50},{"i":13,"j":20,"z":0.55},{"i":13,"j":21,"z":0.50},{"i":13,"j":22,"z":0.56},{"i":13,"j":23,"z":0.57},{"i":13,"j":24,"z":0.57},{"i":13,"j":25,"z":0.57},{"i":13,"j":26,"z":0.56},{"i":13,"j":27,"z":0.62},{"i":13,"j":28,"z":0.57},{"i":13,"j":29,"z":0.60},{"i":13,"j":30,"z":0.60},{"i":13,"j":31,"z":0.62},
{"i":14,"j":0,"z":0.55},{"i":14,"j":1,"z":0.62},{"i":14,"j":2,"z":0.55},{"i":14,"j":3,"z":0.48},{"i":14,"j":4,"z":0.52},{"i":14,"j":5,"z":0.60},{"i":14,"j":6,"z":0.68},{"i":14,"j":7,"z":0.55},{"i":14,"j":8,"z":0.56},{"i":14,"j":9,"z":0.60},{"i":14,"j":10,"z":0.48},{"i":14,"j":11,"z":0.58},{"i":14,"j":12,"z":0.62},{"i":14,"j":13,"z":0.55},{"i":14,"j":14,"z":1},{"i":14,"j":15,"z":0.55},{"i":14,"j":16,"z":0.55},{"i":14,"j":17,"z":0.55},{"i":14,"j":18,"z":0.66},{"i":14,"j":19,"z":0.50},{"i":14,"j":20,"z":0.55},{"i":14,"j":21,"z":0.48},{"i":14,"j":22,"z":0.58},{"i":14,"j":23,"z":0.57},{"i":14,"j":24,"z":0.60},{"i":14,"j":25,"z":0.56},{"i":14,"j":26,"z":0.56},{"i":14,"j":27,"z":0.64},{"i":14,"j":28,"z":0.58},{"i":14,"j":29,"z":0.58},{"i":14,"j":30,"z":0.60},{"i":14,"j":31,"z":0.60},
{"i":15,"j":0,"z":0.56},{"i":15,"j":1,"z":0.58},{"i":15,"j":2,"z":0.57},{"i":15,"j":3,"z":0.50},{"i":15,"j":4,"z":0.53},{"i":15,"j":5,"z":0.58},{"i":15,"j":6,"z":0.70},{"i":15,"j":7,"z":0.57},{"i":15,"j":8,"z":0.58},{"i":15,"j":9,"z":0.62},{"i":15,"j":10,"z":0.50},{"i":15,"j":11,"z":0.60},{"i":15,"j":12,"z":0.62},{"i":15,"j":13,"z":0.55},{"i":15,"j":14,"z":0.55},{"i":15,"j":15,"z":1},{"i":15,"j":16,"z":0.55},{"i":15,"j":17,"z":0.57},{"i":15,"j":18,"z":0.64},{"i":15,"j":19,"z":0.50},{"i":15,"j":20,"z":0.52},{"i":15,"j":21,"z":0.48},{"i":15,"j":22,"z":0.58},{"i":15,"j":23,"z":0.56},{"i":15,"j":24,"z":0.58},{"i":15,"j":25,"z":0.58},{"i":15,"j":26,"z":0.56},{"i":15,"j":27,"z":0.65},{"i":15,"j":28,"z":0.56},{"i":15,"j":29,"z":0.58},{"i":15,"j":30,"z":0.58},{"i":15,"j":31,"z":0.60},
{"i":16,"j":0,"z":0.60},{"i":16,"j":1,"z":0.58},{"i":16,"j":2,"z":0.58},{"i":16,"j":3,"z":0.50},{"i":16,"j":4,"z":0.53},{"i":16,"j":5,"z":0.57},{"i":16,"j":6,"z":0.70},{"i":16,"j":7,"z":0.58},{"i":16,"j":8,"z":0.58},{"i":16,"j":9,"z":0.60},{"i":16,"j":10,"z":0.52},{"i":16,"j":11,"z":0.58},{"i":16,"j":12,"z":0.60},{"i":16,"j":13,"z":0.53},{"i":16,"j":14,"z":0.55},{"i":16,"j":15,"z":0.55},{"i":16,"j":16,"z":1},{"i":16,"j":17,"z":0.57},{"i":16,"j":18,"z":0.68},{"i":16,"j":19,"z":0.48},{"i":16,"j":20,"z":0.55},{"i":16,"j":21,"z":0.52},{"i":16,"j":22,"z":0.57},{"i":16,"j":23,"z":0.57},{"i":16,"j":24,"z":0.58},{"i":16,"j":25,"z":0.58},{"i":16,"j":26,"z":0.58},{"i":16,"j":27,"z":0.68},{"i":16,"j":28,"z":0.52},{"i":16,"j":29,"z":0.58},{"i":16,"j":30,"z":0.62},{"i":16,"j":31,"z":0.62},
{"i":17,"j":0,"z":0.55},{"i":17,"j":1,"z":0.66},{"i":17,"j":2,"z":0.60},{"i":17,"j":3,"z":0.52},{"i":17,"j":4,"z":0.55},{"i":17,"j":5,"z":0.60},{"i":17,"j":6,"z":0.70},{"i":17,"j":7,"z":0.56},{"i":17,"j":8,"z":0.58},{"i":17,"j":9,"z":0.60},{"i":17,"j":10,"z":0.53},{"i":17,"j":11,"z":0.60},{"i":17,"j":12,"z":0.62},{"i":17,"j":13,"z":0.55},{"i":17,"j":14,"z":0.55},{"i":17,"j":15,"z":0.57},{"i":17,"j":16,"z":0.57},{"i":17,"j":17,"z":1},{"i":17,"j":18,"z":0.66},{"i":17,"j":19,"z":0.45},{"i":17,"j":20,"z":0.48},{"i":17,"j":21,"z":0.45},{"i":17,"j":22,"z":0.55},{"i":17,"j":23,"z":0.55},{"i":17,"j":24,"z":0.53},{"i":17,"j":25,"z":0.53},{"i":17,"j":26,"z":0.53},{"i":17,"j":27,"z":0.64},{"i":17,"j":28,"z":0.55},{"i":17,"j":29,"z":0.56},{"i":17,"j":30,"z":0.57},{"i":17,"j":31,"z":0.58},
{"i":18,"j":0,"z":0.66},{"i":18,"j":1,"z":0.74},{"i":18,"j":2,"z":0.70},{"i":18,"j":3,"z":0.64},{"i":18,"j":4,"z":0.62},{"i":18,"j":5,"z":0.70},{"i":18,"j":6,"z":0.84},{"i":18,"j":7,"z":0.70},{"i":18,"j":8,"z":0.70},{"i":18,"j":9,"z":0.75},{"i":18,"j":10,"z":0.58},{"i":18,"j":11,"z":0.70},{"i":18,"j":12,"z":0.74},{"i":18,"j":13,"z":0.66},{"i":18,"j":14,"z":0.66},{"i":18,"j":15,"z":0.64},{"i":18,"j":16,"z":0.68},{"i":18,"j":17,"z":0.66},{"i":18,"j":18,"z":1},{"i":18,"j":19,"z":0.60},{"i":18,"j":20,"z":0.64},{"i":18,"j":21,"z":0.58},{"i":18,"j":22,"z":0.70},{"i":18,"j":23,"z":0.71},{"i":18,"j":24,"z":0.71},{"i":18,"j":25,"z":0.70},{"i":18,"j":26,"z":0.70},{"i":18,"j":27,"z":0.82},{"i":18,"j":28,"z":0.67},{"i":18,"j":29,"z":0.70},{"i":18,"j":30,"z":0.76},{"i":18,"j":31,"z":0.76},
{"i":19,"j":0,"z":0.48},{"i":19,"j":1,"z":0.50},{"i":19,"j":2,"z":0.52},{"i":19,"j":3,"z":0.47},{"i":19,"j":4,"z":0.50},{"i":19,"j":5,"z":0.53},{"i":19,"j":6,"z":0.62},{"i":19,"j":7,"z":0.50},{"i":19,"j":8,"z":0.53},{"i":19,"j":9,"z":0.53},{"i":19,"j":10,"z":0.42},{"i":19,"j":11,"z":0.55},{"i":19,"j":12,"z":0.55},{"i":19,"j":13,"z":0.50},{"i":19,"j":14,"z":0.50},{"i":19,"j":15,"z":0.50},{"i":19,"j":16,"z":0.48},{"i":19,"j":17,"z":0.45},{"i":19,"j":18,"z":0.60},{"i":19,"j":19,"z":1},{"i":19,"j":20,"z":0.48},{"i":19,"j":21,"z":0.44},{"i":19,"j":22,"z":0.55},{"i":19,"j":23,"z":0.52},{"i":19,"j":24,"z":0.52},{"i":19,"j":25,"z":0.52},{"i":19,"j":26,"z":0.55},{"i":19,"j":27,"z":0.60},{"i":19,"j":28,"z":0.45},{"i":19,"j":29,"z":0.52},{"i":19,"j":30,"z":0.55},{"i":19,"j":31,"z":0.56},
{"i":20,"j":0,"z":0.50},{"i":20,"j":1,"z":0.58},{"i":20,"j":2,"z":0.58},{"i":20,"j":3,"z":0.50},{"i":20,"j":4,"z":0.53},{"i":20,"j":5,"z":0.58},{"i":20,"j":6,"z":0.68},{"i":20,"j":7,"z":0.58},{"i":20,"j":8,"z":0.56},{"i":20,"j":9,"z":0.58},{"i":20,"j":10,"z":0.48},{"i":20,"j":11,"z":0.58},{"i":20,"j":12,"z":0.60},{"i":20,"j":13,"z":0.55},{"i":20,"j":14,"z":0.55},{"i":20,"j":15,"z":0.52},{"i":20,"j":16,"z":0.55},{"i":20,"j":17,"z":0.48},{"i":20,"j":18,"z":0.64},{"i":20,"j":19,"z":0.48},{"i":20,"j":20,"z":1},{"i":20,"j":21,"z":0.52},{"i":20,"j":22,"z":0.58},{"i":20,"j":23,"z":0.60},{"i":20,"j":24,"z":0.64},{"i":20,"j":25,"z":0.52},{"i":20,"j":26,"z":0.53},{"i":20,"j":27,"z":0.65},{"i":20,"j":28,"z":0.52},{"i":20,"j":29,"z":0.58},{"i":20,"j":30,"z":0.60},{"i":20,"j":31,"z":0.60},
{"i":21,"j":0,"z":0.45},{"i":21,"j":1,"z":0.50},{"i":21,"j":2,"z":0.50},{"i":21,"j":3,"z":0.42},{"i":21,"j":4,"z":0.48},{"i":21,"j":5,"z":0.52},{"i":21,"j":6,"z":0.60},{"i":21,"j":7,"z":0.52},{"i":21,"j":8,"z":0.52},{"i":21,"j":9,"z":0.52},{"i":21,"j":10,"z":0.50},{"i":21,"j":11,"z":0.53},{"i":21,"j":12,"z":0.53},{"i":21,"j":13,"z":0.50},{"i":21,"j":14,"z":0.48},{"i":21,"j":15,"z":0.48},{"i":21,"j":16,"z":0.52},{"i":21,"j":17,"z":0.45},{"i":21,"j":18,"z":0.58},{"i":21,"j":19,"z":0.44},{"i":21,"j":20,"z":0.52},{"i":21,"j":21,"z":1},{"i":21,"j":22,"z":0.50},{"i":21,"j":23,"z":0.50},{"i":21,"j":24,"z":0.50},{"i":21,"j":25,"z":0.50},{"i":21,"j":26,"z":0.50},{"i":21,"j":27,"z":0.60},{"i":21,"j":28,"z":0.50},{"i":21,"j":29,"z":0.50},{"i":21,"j":30,"z":0.52},{"i":21,"j":31,"z":0.53},
{"i":22,"j":0,"z":0.56},{"i":22,"j":1,"z":0.60},{"i":22,"j":2,"z":0.58},{"i":22,"j":3,"z":0.55},{"i":22,"j":4,"z":0.54},{"i":22,"j":5,"z":0.60},{"i":22,"j":6,"z":0.74},{"i":22,"j":7,"z":0.60},{"i":22,"j":8,"z":0.60},{"i":22,"j":9,"z":0.63},{"i":22,"j":10,"z":0.50},{"i":22,"j":11,"z":0.60},{"i":22,"j":12,"z":0.63},{"i":22,"j":13,"z":0.56},{"i":22,"j":14,"z":0.58},{"i":22,"j":15,"z":0.58},{"i":22,"j":16,"z":0.57},{"i":22,"j":17,"z":0.55},{"i":22,"j":18,"z":0.70},{"i":22,"j":19,"z":0.55},{"i":22,"j":20,"z":0.58},{"i":22,"j":21,"z":0.50},{"i":22,"j":22,"z":1},{"i":22,"j":23,"z":0.60},{"i":22,"j":24,"z":0.60},{"i":22,"j":25,"z":0.60},{"i":22,"j":26,"z":0.64},{"i":22,"j":27,"z":0.70},{"i":22,"j":28,"z":0.58},{"i":22,"j":29,"z":0.60},{"i":22,"j":30,"z":0.68},{"i":22,"j":31,"z":0.60},
{"i":23,"j":0,"z":0.57},{"i":23,"j":1,"z":0.66},{"i":23,"j":2,"z":0.62},{"i":23,"j":3,"z":0.53},{"i":23,"j":4,"z":0.55},{"i":23,"j":5,"z":0.62},{"i":23,"j":6,"z":0.73},{"i":23,"j":7,"z":0.60},{"i":23,"j":8,"z":0.60},{"i":23,"j":9,"z":0.66},{"i":23,"j":10,"z":0.52},{"i":23,"j":11,"z":0.62},{"i":23,"j":12,"z":0.63},{"i":23,"j":13,"z":0.57},{"i":23,"j":14,"z":0.57},{"i":23,"j":15,"z":0.56},{"i":23,"j":16,"z":0.57},{"i":23,"j":17,"z":0.55},{"i":23,"j":18,"z":0.71},{"i":23,"j":19,"z":0.52},{"i":23,"j":20,"z":0.60},{"i":23,"j":21,"z":0.50},{"i":23,"j":22,"z":0.60},{"i":23,"j":23,"z":1},{"i":23,"j":24,"z":0.60},{"i":23,"j":25,"z":0.60},{"i":23,"j":26,"z":0.62},{"i":23,"j":27,"z":0.70},{"i":23,"j":28,"z":0.60},{"i":23,"j":29,"z":0.62},{"i":23,"j":30,"z":0.64},{"i":23,"j":31,"z":0.62},
{"i":24,"j":0,"z":0.57},{"i":24,"j":1,"z":0.60},{"i":24,"j":2,"z":0.60},{"i":24,"j":3,"z":0.53},{"i":24,"j":4,"z":0.55},{"i":24,"j":5,"z":0.60},{"i":24,"j":6,"z":0.76},{"i":24,"j":7,"z":0.60},{"i":24,"j":8,"z":0.60},{"i":24,"j":9,"z":0.64},{"i":24,"j":10,"z":0.52},{"i":24,"j":11,"z":0.62},{"i":24,"j":12,"z":0.64},{"i":24,"j":13,"z":0.57},{"i":24,"j":14,"z":0.60},{"i":24,"j":15,"z":0.58},{"i":24,"j":16,"z":0.58},{"i":24,"j":17,"z":0.53},{"i":24,"j":18,"z":0.71},{"i":24,"j":19,"z":0.52},{"i":24,"j":20,"z":0.64},{"i":24,"j":21,"z":0.50},{"i":24,"j":22,"z":0.60},{"i":24,"j":23,"z":0.60},{"i":24,"j":24,"z":1},{"i":24,"j":25,"z":0.60},{"i":24,"j":26,"z":0.64},{"i":24,"j":27,"z":0.72},{"i":24,"j":28,"z":0.60},{"i":24,"j":29,"z":0.62},{"i":24,"j":30,"z":0.65},{"i":24,"j":31,"z":0.63},
{"i":25,"j":0,"z":0.57},{"i":25,"j":1,"z":0.60},{"i":25,"j":2,"z":0.60},{"i":25,"j":3,"z":0.50},{"i":25,"j":4,"z":0.55},{"i":25,"j":5,"z":0.60},{"i":25,"j":6,"z":0.74},{"i":25,"j":7,"z":0.60},{"i":25,"j":8,"z":0.60},{"i":25,"j":9,"z":0.63},{"i":25,"j":10,"z":0.52},{"i":25,"j":11,"z":0.60},{"i":25,"j":12,"z":0.64},{"i":25,"j":13,"z":0.57},{"i":25,"j":14,"z":0.56},{"i":25,"j":15,"z":0.58},{"i":25,"j":16,"z":0.58},{"i":25,"j":17,"z":0.53},{"i":25,"j":18,"z":0.70},{"i":25,"j":19,"z":0.52},{"i":25,"j":20,"z":0.52},{"i":25,"j":21,"z":0.50},{"i":25,"j":22,"z":0.60},{"i":25,"j":23,"z":0.60},{"i":25,"j":24,"z":0.60},{"i":25,"j":25,"z":1},{"i":25,"j":26,"z":0.62},{"i":25,"j":27,"z":0.70},{"i":25,"j":28,"z":0.58},{"i":25,"j":29,"z":0.60},{"i":25,"j":30,"z":0.64},{"i":25,"j":31,"z":0.60},
{"i":26,"j":0,"z":0.52},{"i":26,"j":1,"z":0.60},{"i":26,"j":2,"z":0.58},{"i":26,"j":3,"z":0.52},{"i":26,"j":4,"z":0.53},{"i":26,"j":5,"z":0.60},{"i":26,"j":6,"z":0.74},{"i":26,"j":7,"z":0.60},{"i":26,"j":8,"z":0.60},{"i":26,"j":9,"z":0.66},{"i":26,"j":10,"z":0.52},{"i":26,"j":11,"z":0.60},{"i":26,"j":12,"z":0.64},{"i":26,"j":13,"z":0.56},{"i":26,"j":14,"z":0.56},{"i":26,"j":15,"z":0.56},{"i":26,"j":16,"z":0.58},{"i":26,"j":17,"z":0.53},{"i":26,"j":18,"z":0.70},{"i":26,"j":19,"z":0.55},{"i":26,"j":20,"z":0.53},{"i":26,"j":21,"z":0.50},{"i":26,"j":22,"z":0.64},{"i":26,"j":23,"z":0.62},{"i":26,"j":24,"z":0.64},{"i":26,"j":25,"z":0.62},{"i":26,"j":26,"z":1},{"i":26,"j":27,"z":0.70},{"i":26,"j":28,"z":0.60},{"i":26,"j":29,"z":0.62},{"i":26,"j":30,"z":0.64},{"i":26,"j":31,"z":0.65},
{"i":27,"j":0,"z":0.68},{"i":27,"j":1,"z":0.73},{"i":27,"j":2,"z":0.70},{"i":27,"j":3,"z":0.64},{"i":27,"j":4,"z":0.62},{"i":27,"j":5,"z":0.70},{"i":27,"j":6,"z":0.84},{"i":27,"j":7,"z":0.70},{"i":27,"j":8,"z":0.70},{"i":27,"j":9,"z":0.75},{"i":27,"j":10,"z":0.58},{"i":27,"j":11,"z":0.70},{"i":27,"j":12,"z":0.74},{"i":27,"j":13,"z":0.62},{"i":27,"j":14,"z":0.64},{"i":27,"j":15,"z":0.65},{"i":27,"j":16,"z":0.68},{"i":27,"j":17,"z":0.64},{"i":27,"j":18,"z":0.82},{"i":27,"j":19,"z":0.60},{"i":27,"j":20,"z":0.65},{"i":27,"j":21,"z":0.60},{"i":27,"j":22,"z":0.70},{"i":27,"j":23,"z":0.70},{"i":27,"j":24,"z":0.72},{"i":27,"j":25,"z":0.70},{"i":27,"j":26,"z":0.70},{"i":27,"j":27,"z":1},{"i":27,"j":28,"z":0.68},{"i":27,"j":29,"z":0.70},{"i":27,"j":30,"z":0.78},{"i":27,"j":31,"z":0.78},
{"i":28,"j":0,"z":0.55},{"i":28,"j":1,"z":0.60},{"i":28,"j":2,"z":0.55},{"i":28,"j":3,"z":0.52},{"i":28,"j":4,"z":0.55},{"i":28,"j":5,"z":0.58},{"i":28,"j":6,"z":0.70},{"i":28,"j":7,"z":0.60},{"i":28,"j":8,"z":0.60},{"i":28,"j":9,"z":0.62},{"i":28,"j":10,"z":0.52},{"i":28,"j":11,"z":0.60},{"i":28,"j":12,"z":0.62},{"i":28,"j":13,"z":0.57},{"i":28,"j":14,"z":0.58},{"i":28,"j":15,"z":0.56},{"i":28,"j":16,"z":0.52},{"i":28,"j":17,"z":0.55},{"i":28,"j":18,"z":0.67},{"i":28,"j":19,"z":0.45},{"i":28,"j":20,"z":0.52},{"i":28,"j":21,"z":0.50},{"i":28,"j":22,"z":0.58},{"i":28,"j":23,"z":0.60},{"i":28,"j":24,"z":0.60},{"i":28,"j":25,"z":0.58},{"i":28,"j":26,"z":0.60},{"i":28,"j":27,"z":0.68},{"i":28,"j":28,"z":1},{"i":28,"j":29,"z":0.60},{"i":28,"j":30,"z":0.60},{"i":28,"j":31,"z":0.60},
{"i":29,"j":0,"z":0.58},{"i":29,"j":1,"z":0.60},{"i":29,"j":2,"z":0.60},{"i":29,"j":3,"z":0.55},{"i":29,"j":4,"z":0.56},{"i":29,"j":5,"z":0.62},{"i":29,"j":6,"z":0.76},{"i":29,"j":7,"z":0.62},{"i":29,"j":8,"z":0.62},{"i":29,"j":9,"z":0.66},{"i":29,"j":10,"z":0.52},{"i":29,"j":11,"z":0.62},{"i":29,"j":12,"z":0.66},{"i":29,"j":13,"z":0.60},{"i":29,"j":14,"z":0.58},{"i":29,"j":15,"z":0.58},{"i":29,"j":16,"z":0.58},{"i":29,"j":17,"z":0.56},{"i":29,"j":18,"z":0.70},{"i":29,"j":19,"z":0.52},{"i":29,"j":20,"z":0.58},{"i":29,"j":21,"z":0.50},{"i":29,"j":22,"z":0.60},{"i":29,"j":23,"z":0.62},{"i":29,"j":24,"z":0.62},{"i":29,"j":25,"z":0.60},{"i":29,"j":26,"z":0.62},{"i":29,"j":27,"z":0.70},{"i":29,"j":28,"z":0.60},{"i":29,"j":29,"z":1},{"i":29,"j":30,"z":0.64},{"i":29,"j":31,"z":0.62},
{"i":30,"j":0,"z":0.58},{"i":30,"j":1,"z":0.72},{"i":30,"j":2,"z":0.62},{"i":30,"j":3,"z":0.52},{"i":30,"j":4,"z":0.57},{"i":30,"j":5,"z":0.63},{"i":30,"j":6,"z":0.80},{"i":30,"j":7,"z":0.63},{"i":30,"j":8,"z":0.65},{"i":30,"j":9,"z":0.70},{"i":30,"j":10,"z":0.55},{"i":30,"j":11,"z":0.64},{"i":30,"j":12,"z":0.70},{"i":30,"j":13,"z":0.60},{"i":30,"j":14,"z":0.60},{"i":30,"j":15,"z":0.58},{"i":30,"j":16,"z":0.62},{"i":30,"j":17,"z":0.57},{"i":30,"j":18,"z":0.76},{"i":30,"j":19,"z":0.55},{"i":30,"j":20,"z":0.60},{"i":30,"j":21,"z":0.52},{"i":30,"j":22,"z":0.68},{"i":30,"j":23,"z":0.64},{"i":30,"j":24,"z":0.65},{"i":30,"j":25,"z":0.64},{"i":30,"j":26,"z":0.64},{"i":30,"j":27,"z":0.78},{"i":30,"j":28,"z":0.60},{"i":30,"j":29,"z":0.64},{"i":30,"j":30,"z":1},{"i":30,"j":31,"z":0.70},
{"i":31,"j":0,"z":0.62},{"i":31,"j":1,"z":0.65},{"i":31,"j":2,"z":0.60},{"i":31,"j":3,"z":0.58},{"i":31,"j":4,"z":0.60},{"i":31,"j":5,"z":0.64},{"i":31,"j":6,"z":0.80},{"i":31,"j":7,"z":0.64},{"i":31,"j":8,"z":0.67},{"i":31,"j":9,"z":0.70},{"i":31,"j":10,"z":0.60},{"i":31,"j":11,"z":0.64},{"i":31,"j":12,"z":0.70},{"i":31,"j":13,"z":0.62},{"i":31,"j":14,"z":0.60},{"i":31,"j":15,"z":0.60},{"i":31,"j":16,"z":0.62},{"i":31,"j":17,"z":0.58},{"i":31,"j":18,"z":0.76},{"i":31,"j":19,"z":0.56},{"i":31,"j":20,"z":0.60},{"i":31,"j":21,"z":0.53},{"i":31,"j":22,"z":0.60},{"i":31,"j":23,"z":0.62},{"i":31,"j":24,"z":0.63},{"i":31,"j":25,"z":0.60},{"i":31,"j":26,"z":0.65},{"i":31,"j":27,"z":0.78},{"i":31,"j":28,"z":0.60},{"i":31,"j":29,"z":0.62},{"i":31,"j":30,"z":0.70},{"i":31,"j":31,"z":1}
]
},
"hconcat": [
{
 "data": {"name": "k"},
 "title": "Wk Head Similarity",
 "width": 276, "height": 281,
 "mark": {"type": "rect"},
 "encoding": {
  "x": {"field": "j", "type": "ordinal", "scale": {"paddingInner": 0, "paddingOuter": 0}, "axis": {"values": [0,3,6,9,12,15,18,21,24,27,30], "labelAngle": 270}},
  "y": {"field": "i", "type": "ordinal", "scale": {"paddingInner": 0, "paddingOuter": 0}, "axis": {"values": [0,3,6,9,12,15,18,21,24,27,30], "labelAngle": 270, "labelAlign": "center", "labelBaseline": "bottom"}},
  "color": {"field": "z", "type": "quantitative",
   "scale": {"domain": [0.013, 1], "range": ["#0577cf", "#4793d8", "#96bfe3", "#e4e4e8", "#e2b9ae", "#d5866c", "#c83c0c"]},
   "legend": {"title": null, "values": [0.2, 0.4, 0.6, 0.8, 1.0], "format": ".1f", "labelOffset": 13}}
 }
},
{
 "data": {"name": "v"},
 "title": "Wv Head Similarity",
 "width": 276, "height": 281,
 "mark": {"type": "rect"},
 "encoding": {
  "x": {"field": "j", "type": "ordinal", "scale": {"paddingInner": 0, "paddingOuter": 0}, "axis": {"values": [0,3,6,9,12,15,18,21,24,27,30], "labelAngle": 270}},
  "y": {"field": "i", "type": "ordinal", "scale": {"paddingInner": 0, "paddingOuter": 0}, "axis": {"values": [0,3,6,9,12,15,18,21,24,27,30], "labelAngle": 270, "labelAlign": "center", "labelBaseline": "bottom"}},
  "color": {"field": "z", "type": "quantitative",
   "scale": {"domain": [0.4, 1], "range": ["#0577cf", "#4793d8", "#96bfe3", "#e4e4e8", "#e2b9ae", "#d5866c", "#c83c0c"]},
   "legend": {"title": null, "values": [0.4, 0.5, 0.6, 0.7, 0.8, 0.9, 1.0], "format": ".1f", "labelOffset": 13}}
 }
}
]
}
